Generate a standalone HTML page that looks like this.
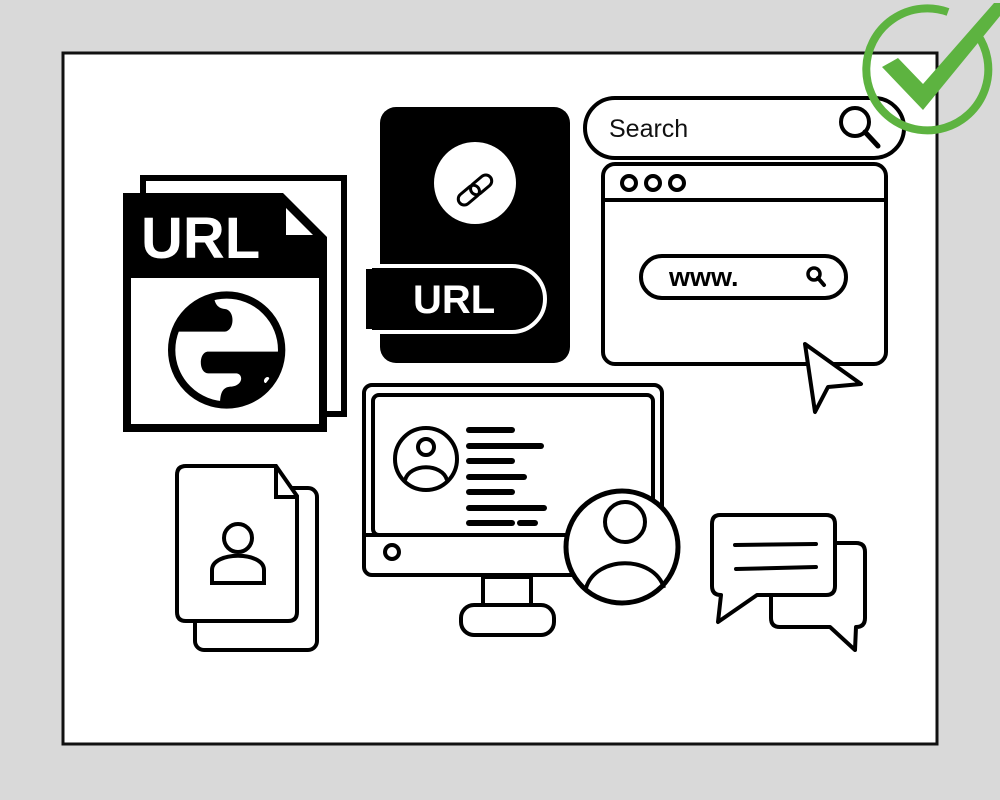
<!DOCTYPE html>
<html><head><meta charset="utf-8"><style>
html,body{margin:0;padding:0;background:#d9d9d9;}
svg{display:block}
text{font-family:"Liberation Sans",sans-serif}
</style></head><body>
<svg width="1000" height="800" viewBox="0 0 1000 800" xmlns="http://www.w3.org/2000/svg">
<defs><clipPath id="gc"><circle cx="185" cy="195" r="160"/></clipPath></defs>
<rect x="0" y="0" width="1000" height="800" fill="#d9d9d9"/>
<rect x="63" y="53" width="874" height="691" fill="#fff" stroke="#111" stroke-width="3"/>

<!-- URL file -->
<rect x="143" y="178" width="201" height="236" fill="#fff" stroke="#000" stroke-width="6"/>
<path d="M123,193 H283 L327,237 V432 H123 Z" fill="#000"/>
<rect x="131" y="278" width="188" height="146" fill="#fff"/>
<path d="M286,208 V235 H313 Z" fill="#fff"/>
<text x="141" y="258" font-size="58" font-weight="bold" fill="#fff">URL</text>
<g transform="translate(165,285) scale(0.3333)">
<g clip-path="url(#gc)">
<rect x="0" y="0" width="400" height="400" fill="#fff"/>
<path d="M0,0 H150 C140,50 155,70 180,72 C210,75 210,135 180,140 H0 Z" fill="#000"/>
<path d="M400,200 H130 C100,200 100,265 130,265 H215 C235,268 235,300 200,305 C175,305 165,320 165,360 V400 H400 Z" fill="#000"/>
<ellipse cx="305" cy="285" rx="7" ry="10" transform="rotate(35 305 285)" fill="#fff"/>
</g>
<circle cx="185" cy="195" r="165" fill="none" stroke="#000" stroke-width="22"/>
</g>

<!-- Link document -->
<rect x="380" y="107" width="190" height="256" rx="16" fill="#000"/>
<circle cx="475" cy="183" r="41" fill="#fff"/>
<g transform="rotate(-40 475 190)" fill="none" stroke="#000" stroke-width="3">
<rect x="455" y="184" width="24" height="12" rx="6"/>
<rect x="471" y="184" width="24" height="12" rx="6"/>
</g>
<path d="M366,266 H512 A33,33 0 0 1 512,332 H366 Z" fill="#000" stroke="#fff" stroke-width="4"/>
<rect x="360" y="268" width="12" height="62" fill="#fff"/>
<rect x="366" y="269" width="10" height="60" fill="#000"/>
<text x="413" y="313" font-size="40" font-weight="bold" fill="#fff">URL</text>

<!-- Search bar -->
<rect x="585" y="98" width="319" height="60" rx="30" fill="#fff" stroke="#000" stroke-width="4"/>
<text x="609" y="137" font-size="25" fill="#111">Search</text>
<circle cx="855" cy="122" r="14" fill="none" stroke="#000" stroke-width="4"/>
<line x1="865" y1="132" x2="878" y2="146" stroke="#000" stroke-width="5" stroke-linecap="round"/>

<!-- Check -->
<path d="M977,34 A61,61 0 1 1 948,12" fill="none" stroke="#5db340" stroke-width="8"/>
<path d="M882,67 L898,58 L923,84 L994,3 L1000,3 L1000,16 L923,110 Z" fill="#5db340"/>

<!-- Browser -->
<rect x="603" y="164" width="283" height="200" rx="12" fill="#fff" stroke="#000" stroke-width="4"/>
<line x1="603" y1="200" x2="886" y2="200" stroke="#000" stroke-width="4"/>
<circle cx="629" cy="183" r="7" fill="none" stroke="#000" stroke-width="4"/>
<circle cx="653" cy="183" r="7" fill="none" stroke="#000" stroke-width="4"/>
<circle cx="677" cy="183" r="7" fill="none" stroke="#000" stroke-width="4"/>
<rect x="641" y="256" width="205" height="42" rx="21" fill="#fff" stroke="#000" stroke-width="4"/>
<text x="669" y="286" font-size="27" font-weight="bold" fill="#000">www.</text>
<circle cx="814" cy="274" r="6" fill="none" stroke="#000" stroke-width="3.5"/>
<line x1="818" y1="278" x2="824" y2="285" stroke="#000" stroke-width="4" stroke-linecap="round"/>
<path d="M805,344 L861,384 L828,387 L815,412 Z" fill="#fff" stroke="#000" stroke-width="4" stroke-linejoin="round"/>

<!-- Monitor -->
<rect x="364" y="385" width="298" height="190" rx="8" fill="#fff" stroke="#000" stroke-width="4"/>
<rect x="373" y="395" width="280" height="140" rx="6" fill="#fff" stroke="#000" stroke-width="4"/>
<line x1="364" y1="535" x2="662" y2="535" stroke="#000" stroke-width="4"/>
<circle cx="392" cy="552" r="7" fill="none" stroke="#000" stroke-width="4"/>
<rect x="483" y="577" width="48" height="28" fill="#fff" stroke="#000" stroke-width="4"/>
<rect x="461" y="605" width="93" height="30" rx="13" fill="#fff" stroke="#000" stroke-width="4"/>
<circle cx="426" cy="459" r="31" fill="#fff" stroke="#000" stroke-width="4"/>
<circle cx="426" cy="447" r="8" fill="none" stroke="#000" stroke-width="4"/>
<path d="M405,480 C410,463 442,463 447,480" fill="none" stroke="#000" stroke-width="4"/>
<g stroke="#000" stroke-width="6" stroke-linecap="round">
<line x1="469" y1="430" x2="512" y2="430"/>
<line x1="469" y1="446" x2="541" y2="446"/>
<line x1="469" y1="461" x2="512" y2="461"/>
<line x1="469" y1="477" x2="524" y2="477"/>
<line x1="469" y1="492" x2="512" y2="492"/>
<line x1="469" y1="508" x2="544" y2="508"/>
<line x1="469" y1="523" x2="512" y2="523"/>
<line x1="520" y1="523" x2="535" y2="523"/>
</g>
<circle cx="622" cy="547" r="56" fill="#fff" stroke="#000" stroke-width="5"/>
<circle cx="625" cy="522" r="20" fill="none" stroke="#000" stroke-width="4"/>
<path d="M586,588 C596,555 654,555 664,588" fill="none" stroke="#000" stroke-width="4"/>

<!-- Contact file -->
<rect x="195" y="488" width="122" height="162" rx="9" fill="#fff" stroke="#000" stroke-width="4"/>
<path d="M186,466 H276 L297,496 V612 Q297,621 288,621 H186 Q177,621 177,612 V475 Q177,466 186,466 Z" fill="#fff" stroke="#000" stroke-width="4"/>
<path d="M276,466 V497 H297" fill="none" stroke="#000" stroke-width="4"/>
<circle cx="238" cy="538" r="14" fill="none" stroke="#000" stroke-width="4"/>
<path d="M212,583 V570 C212,551 264,551 264,570 V583 Z" fill="none" stroke="#000" stroke-width="4"/>

<!-- Chat -->
<path d="M780,543 H856 Q865,543 865,552 V618 Q865,627 856,627 L855,650 L830,627 H780 Q771,627 771,618 V552 Q771,543 780,543 Z" fill="#fff" stroke="#000" stroke-width="4" stroke-linejoin="round"/>
<path d="M720,515 H826 Q835,515 835,524 V586 Q835,595 826,595 H757 L718,622 L721,595 Q712,595 712,586 V524 Q712,515 720,515 Z" fill="#fff" stroke="#000" stroke-width="4" stroke-linejoin="round"/>
<line x1="735" y1="545" x2="816" y2="544" stroke="#000" stroke-width="4" stroke-linecap="round"/>
<line x1="736" y1="569" x2="816" y2="567" stroke="#000" stroke-width="4" stroke-linecap="round"/>
</svg>
</body></html>
